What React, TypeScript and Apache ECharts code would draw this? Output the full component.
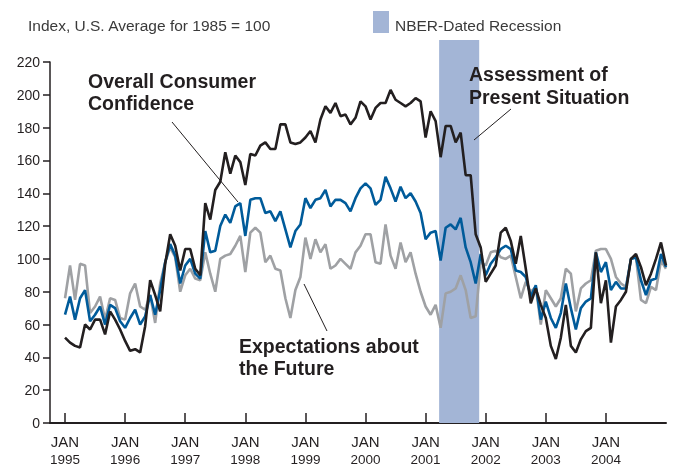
import React, { useEffect, useRef } from "react";
import * as echarts from "echarts";

// Months counted from January 1995 (index 0) to January 2005 (index 120)
const START_YEAR = 1995;
const yearTickMonths = [0, 12, 24, 36, 48, 60, 72, 84, 96, 108];

// Assessment of Present Situation (black)
const presentSituation = [
  52, 49, 47, 46, 60, 57, 63, 63, 54, 68, 63, 57,
  50, 44, 45, 43, 59, 87, 78, 68, 97, 115, 108, 93,
  106, 106, 94, 90, 134, 124, 142, 147, 165, 152, 163, 159,
  145, 164, 163, 169, 171, 167, 167, 182, 182, 171, 170, 171,
  174, 178, 171, 185, 193, 189, 195, 187, 188, 182, 186, 196,
  193, 185, 192, 195, 195, 203, 197, 195, 193, 195, 198, 196,
  174, 190, 184, 162, 181, 181, 171, 177, 151, 151, 115, 107,
  86, 91, 96, 116, 119, 111, 97, 114, 94, 73, 82, 72,
  64, 47, 39, 52, 72, 47, 43, 51, 56, 58, 104, 73,
  87, 49, 71, 75, 80, 100, 103, 95, 84, 91, 100, 110,
  96,
];

// Overall Consumer Confidence (blue)
const overallConfidence = [
  66, 77, 63, 76, 81, 62, 66, 71, 60, 72, 70, 62,
  58, 64, 69, 60, 65, 78, 66, 81, 98, 109, 102, 85,
  96, 100, 91, 88, 117, 104, 105, 120, 127, 122, 132, 134,
  114, 136, 137, 137, 128, 129, 123, 129, 118, 107, 117, 121,
  137, 131, 136, 137, 142, 132, 136, 136, 134, 129, 137, 143,
  146, 143, 133, 136, 150, 143, 135, 144, 137, 140, 135, 128,
  112, 116, 117, 99, 119, 121, 118, 125, 107, 98, 85, 103,
  90, 97, 101, 106, 108, 106, 93, 92, 89, 77, 84, 63,
  74, 64, 58, 67, 85, 70, 57, 70, 74, 76, 104, 92,
  98, 81, 86, 82, 82, 100, 101, 87, 78, 87, 88, 103,
  95,
];

// Expectations about the Future (gray)
const expectations = [
  76, 96, 75, 97, 96, 67, 71, 77, 63, 76, 75, 64,
  63, 79, 85, 71, 69, 78, 61, 85, 98, 107, 101, 80,
  90, 94, 88, 87, 104, 91, 80, 100, 102, 103, 108, 114,
  92, 116, 119, 116, 98, 102, 94, 93, 76, 64, 81, 89,
  113, 100, 112, 104, 109, 94, 96, 100, 97, 94, 104, 108,
  115, 115, 98, 97, 121, 102, 94, 110, 98, 104, 91, 80,
  71, 66, 72, 58, 79, 80, 82, 90, 81, 64, 65, 98,
  96, 104, 105, 101, 100, 102, 89, 76, 86, 80, 83, 60,
  81, 76, 71, 76, 94, 91, 68, 82, 85, 87, 105, 106,
  106, 100, 89, 85, 83, 100, 101, 75, 73, 83, 81, 99,
  94,
];

// NBER-dated recession, March–November 2001, in month index units
const recessionStart = 74.7;
const recessionEnd = 82.7;

const FONT = '"Liberation Sans", Arial, Helvetica, sans-serif';
const INK = "#231f20";

export default function App() {
  const ref = useRef<HTMLDivElement>(null);

  useEffect(() => {
    document.body.style.margin = "0";
    const chart = echarts.init(ref.current as HTMLDivElement, null, { renderer: "svg" });
    const toPairs = (arr: number[]) => arr.map((v, i) => [i, v]);

    chart.setOption({
      animation: false,
      textStyle: { fontFamily: FONT },
      grid: { left: 50, right: 31, top: 62, bottom: 49 },
      xAxis: {
        type: "value",
        min: -3,
        max: 120,
        splitLine: { show: false },
        axisLine: { show: true, onZero: false, lineStyle: { color: INK, width: 2 } },
        axisTick: {
          show: true,
          inside: true,
          length: 10,
          customValues: yearTickMonths,
          lineStyle: { color: INK, width: 1.5 },
        },
        axisLabel: {
          show: true,
          customValues: yearTickMonths,
          margin: 9,
          formatter: (v: number) => `{a|JAN}\n{b|${START_YEAR + Math.round(v / 12)}}`,
          rich: {
            a: { fontSize: 15, lineHeight: 18, color: INK, fontFamily: FONT },
            b: { fontSize: 13.5, lineHeight: 18, color: INK, fontFamily: FONT },
          },
        },
      },
      yAxis: {
        type: "value",
        min: 0,
        max: 220,
        interval: 20,
        splitLine: { show: false },
        axisLine: { show: true, onZero: false, lineStyle: { color: INK, width: 1.5 } },
        axisTick: { show: true, length: 7, lineStyle: { color: INK, width: 1.5 } },
        axisLabel: { fontSize: 14, color: INK, margin: 10, fontFamily: FONT },
      },
      series: [
        {
          name: "Expectations about the Future",
          type: "line",
          data: toPairs(expectations),
          showSymbol: false,
          clip: false,
          lineStyle: { color: "#9fa1a4", width: 2.6 },
          itemStyle: { color: "#9fa1a4" },
          z: 3,
          markArea: {
            silent: true,
            z: 1,
            itemStyle: { color: "#a3b5d6", opacity: 1 },
            data: [[{ xAxis: recessionStart, y: 40 }, { xAxis: recessionEnd, yAxis: 0 }]],
          },
        },
        {
          name: "Overall Consumer Confidence",
          type: "line",
          data: toPairs(overallConfidence),
          showSymbol: false,
          lineStyle: { color: "#005b9a", width: 2.6 },
          itemStyle: { color: "#005b9a" },
          z: 4,
        },
        {
          name: "Assessment of Present Situation",
          type: "line",
          data: toPairs(presentSituation),
          showSymbol: false,
          lineStyle: { color: INK, width: 2.6 },
          itemStyle: { color: INK },
          z: 5,
        },
      ],
      graphic: [
        {
          type: "text",
          z: 100,
          x: 28,
          y: 25,
          style: {
            text: "Index, U.S. Average for 1985 = 100",
            fontSize: 15.5,
            fontFamily: FONT,
            fill: "#3a3a3a",
            align: "left",
            verticalAlign: "middle",
          },
        },
        {
          type: "rect",
          z: 100,
          shape: { x: 373, y: 11, width: 16, height: 22 },
          style: { fill: "#a3b5d6" },
        },
        {
          type: "text",
          z: 100,
          x: 395,
          y: 25,
          style: {
            text: "NBER-Dated Recession",
            fontSize: 15.5,
            fontFamily: FONT,
            fill: "#3a3a3a",
            align: "left",
            verticalAlign: "middle",
          },
        },
        {
          type: "text",
          z: 100,
          x: 88,
          y: 70,
          style: {
            text: "Overall Consumer\nConfidence",
            fontSize: 19.5,
            fontWeight: "bold",
            fontFamily: FONT,
            lineHeight: 22,
            fill: INK,
            align: "left",
            verticalAlign: "top",
          },
        },
        {
          type: "text",
          z: 100,
          x: 469,
          y: 62,
          style: {
            text: "Assessment of\nPresent Situation",
            fontSize: 19.5,
            fontWeight: "bold",
            fontFamily: FONT,
            lineHeight: 23,
            fill: INK,
            align: "left",
            verticalAlign: "top",
          },
        },
        {
          type: "text",
          z: 100,
          x: 239,
          y: 335,
          style: {
            text: "Expectations about\nthe Future",
            fontSize: 19.5,
            fontWeight: "bold",
            fontFamily: FONT,
            lineHeight: 22,
            fill: INK,
            align: "left",
            verticalAlign: "top",
          },
        },
        {
          type: "line",
          z: 100,
          shape: { x1: 172, y1: 122, x2: 238, y2: 202 },
          style: { stroke: INK, lineWidth: 1 },
        },
        {
          type: "line",
          z: 100,
          shape: { x1: 511, y1: 109, x2: 474, y2: 140 },
          style: { stroke: INK, lineWidth: 1 },
        },
        {
          type: "line",
          z: 100,
          shape: { x1: 304, y1: 284, x2: 327, y2: 331 },
          style: { stroke: INK, lineWidth: 1 },
        },
      ],
    });

    return () => chart.dispose();
  }, []);

  return (
    <div
      ref={ref}
      style={{ position: "fixed", left: 0, top: 0, width: 697, height: 472 }}
    />
  );
}
